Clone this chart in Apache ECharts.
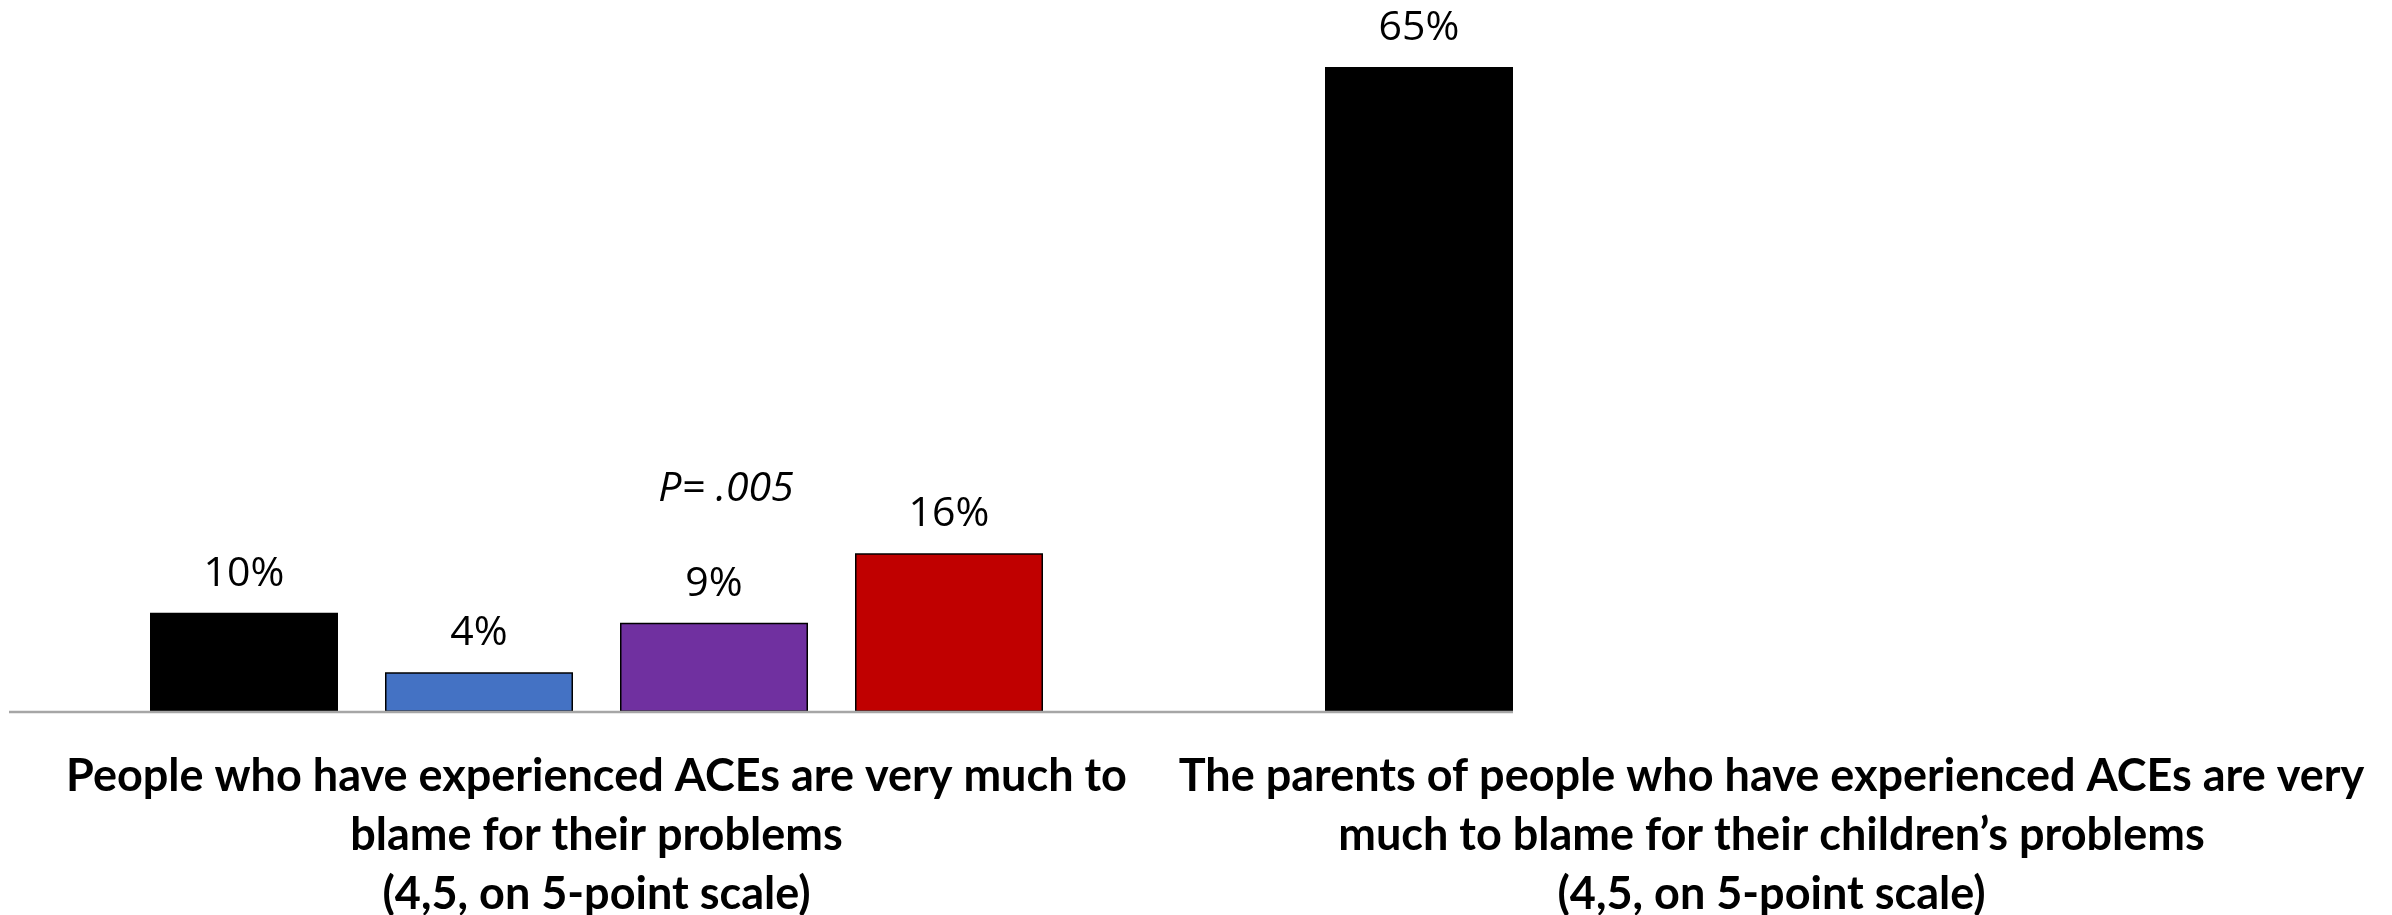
<!DOCTYPE html>
<html>
<head>
<meta charset="utf-8">
<script src="https://cdn.jsdelivr.net/npm/echarts@6/dist/echarts.min.js"></script>
<style>
  html, body { margin: 0; padding: 0; background: #ffffff; }
  #chart { width: 2392px; height: 915px; }
</style>
</head>
<body>
<div id="chart"></div>
<script>
const categories = [
  'People who have experienced ACEs are very much to\nblame for their problems\n(4,5, on 5-point scale)',
  'The parents of people who have experienced ACEs are very\nmuch to blame for their children\u2019s problems\n(4,5, on 5-point scale)'
];
const seriesNames = ['Series 1', 'Series 2', 'Series 3', 'Series 4'];
const seriesColors = ['#000000', '#4472C4', '#7030A0', '#C00000'];
const series1 = [10, 65];
const series2 = [4, null];
const series3 = [9, null];
const series4 = [16, null];
const pValueText = 'P= .005';
const pValueAt = 22.4;

const allValues = [series1, series2, series3, series4];

const chart = echarts.init(document.getElementById('chart'), null, { renderer: 'canvas' });

const valueLabel = {
  show: true,
  position: 'top',
  distance: 18,
  fontFamily: 'Open Sans',
  fontSize: 41,
  color: '#000000',
  formatter: p => p.value + '%'
};

const series = allValues.map((vals, i) => {
  const s = {
    name: seriesNames[i],
    type: 'bar',
    data: vals,
    barWidth: 188,
    barGap: '25%',
    itemStyle: { color: seriesColors[i], borderColor: '#000000', borderWidth: 1.5 },
    label: valueLabel,
    silent: true
  };
  if (i === 2) {
    s.markPoint = {
      symbol: 'rect',
      symbolSize: 0,
      silent: true,
      data: [{ coord: [categories[0], pValueAt] }],
      label: {
        show: true,
        position: 'inside',
        offset: [12, 0],
        formatter: pValueText,
        fontFamily: 'Open Sans',
        fontStyle: 'italic',
        fontSize: 41,
        color: '#000000'
      }
    };
  }
  return s;
});

chart.setOption({
  animation: false,
  backgroundColor: '#ffffff',
  grid: { left: 9, right: 33, top: 17.4, bottom: 203, containLabel: false, outerBoundsMode: 'none' },
  xAxis: {
    type: 'category',
    data: categories,
    axisLine: { show: false },
    axisTick: { show: false },
    axisLabel: {
      interval: 0,
      margin: 35,
      fontFamily: 'Lato',
      fontWeight: 'bold',
      fontSize: 45,
      lineHeight: 59,
      color: '#000000',
      align: 'center'
    }
  },
  yAxis: {
    type: 'value',
    min: 0,
    max: 70,
    show: false,
    splitLine: { show: false }
  },
  series: series
});

// baseline drawn from the grid's left edge to the right edge of the last bar
const layout = chart.getModel().getSeriesByIndex(0).getData().getItemLayout(1);
const y0 = chart.convertToPixel({ yAxisIndex: 0 }, 0);
chart.setOption({
  graphic: [{
    type: 'line',
    silent: true,
    z: 10,
    shape: { x1: 9, y1: y0, x2: layout.x + layout.width, y2: y0 },
    style: { stroke: '#A6A6A6', lineWidth: 2.5 }
  }]
});
</script>
</body>
</html>
